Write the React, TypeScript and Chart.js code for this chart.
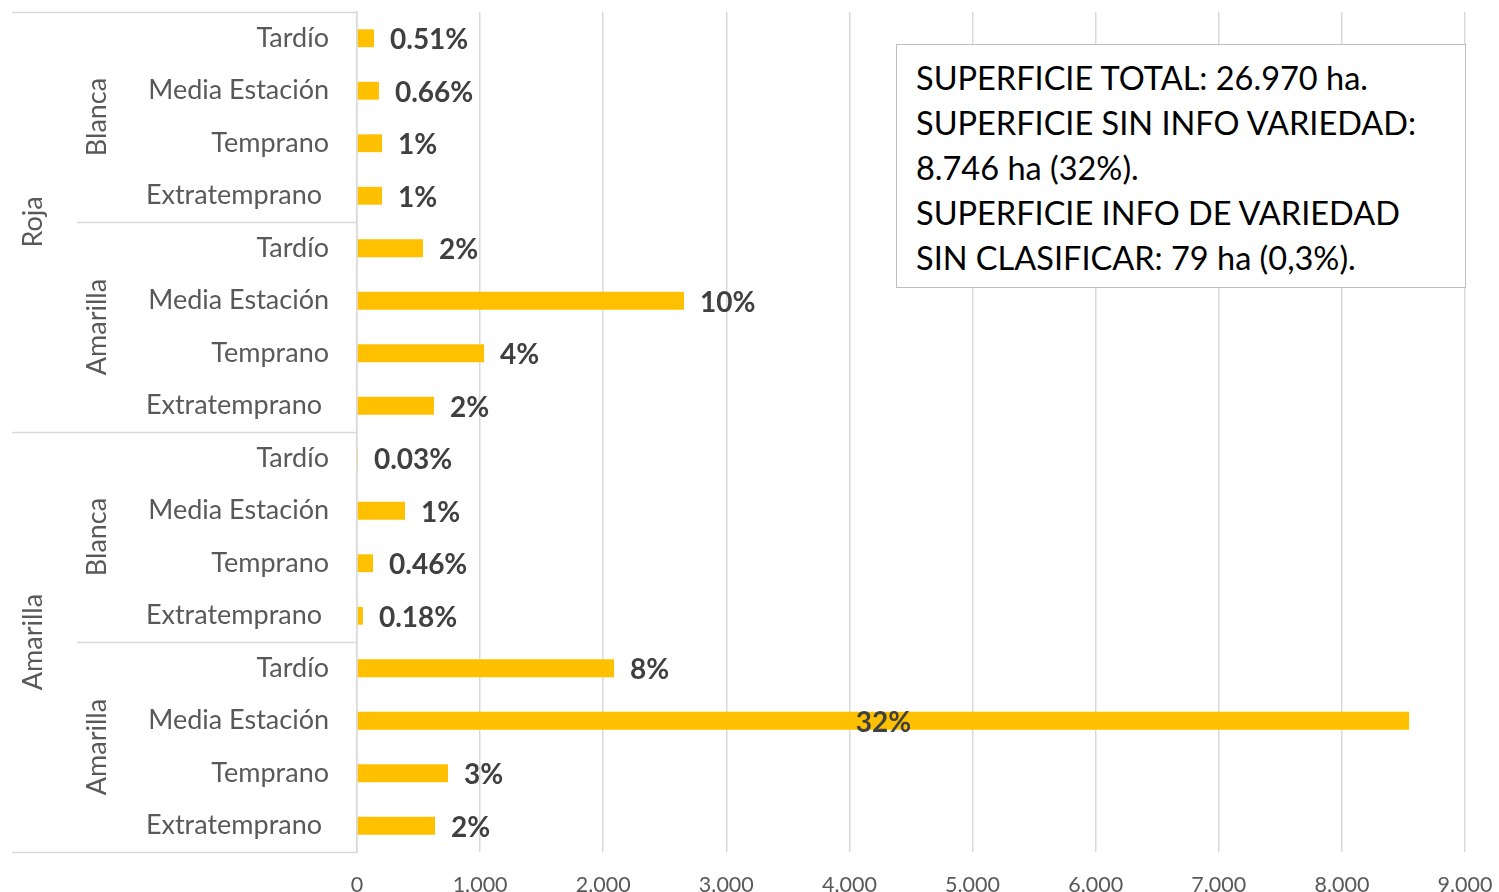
import React, { useEffect, useRef } from "react";
import { Chart, registerables } from "chart.js";

Chart.register(...registerables);

const categories = [
  "Tardío", "Media Estación", "Temprano", "Extratemprano ",
  "Tardío", "Media Estación", "Temprano", "Extratemprano ",
  "Tardío", "Media Estación", "Temprano", "Extratemprano ",
  "Tardío", "Media Estación", "Temprano", "Extratemprano ",
];
const innerGroups = ["Blanca", "Amarilla", "Blanca", "Amarilla"];
const outerGroups = ["Roja", "Amarilla"];
const values = [138, 178, 203, 203, 536, 2656, 1032, 625, 8, 390, 130, 48, 2088, 8546, 739, 634];
const pctLabels = [
  "0.51%", "0.66%", "1%", "1%", "2%", "10%", "4%", "2%",
  "0.03%", "1%", "0.46%", "0.18%", "8%", "32%", "3%", "2%",
];
const infoLines = [
  "SUPERFICIE TOTAL: 26.970 ha.",
  "SUPERFICIE SIN INFO VARIEDAD:",
  "8.746 ha (32%).",
  "SUPERFICIE INFO DE VARIEDAD",
  "SIN CLASIFICAR: 79 ha (0,3%).",
];

const FONT = "Lato, 'Open Sans', sans-serif";
const LINE = "#d9d9d9";

const groupPlugin = {
  id: "groupPlugin",
  afterDraw(chart: any) {
    const ctx = chart.ctx;
    const area = chart.chartArea;
    const n = categories.length;
    const rowH = (area.bottom - area.top) / n;
    const left = 12;
    const innerLeft = 77;
    const axisX = area.left;
    ctx.save();
    ctx.strokeStyle = LINE;
    ctx.lineWidth = 1.5;
    for (let k = 0; k <= 4; k++) {
      const y = Math.round(area.top + k * 4 * rowH) + 0.5;
      const x0 = k % 2 === 0 ? left : innerLeft;
      ctx.beginPath();
      ctx.moveTo(x0, y);
      ctx.lineTo(axisX, y);
      ctx.stroke();
    }
    ctx.fillStyle = "#595959";
    ctx.font = `27px ${FONT}`;
    ctx.textAlign = "center";
    ctx.textBaseline = "middle";
    innerGroups.forEach((g, i) => {
      const cy = area.top + (i * 4 + 2) * rowH;
      ctx.save();
      ctx.translate(97, cy);
      ctx.rotate(-Math.PI / 2);
      ctx.fillText(g, 0, 0);
      ctx.restore();
    });
    outerGroups.forEach((g, i) => {
      const cy = area.top + (i * 8 + 4) * rowH;
      ctx.save();
      ctx.translate(33, cy);
      ctx.rotate(-Math.PI / 2);
      ctx.fillText(g, 0, 0);
      ctx.restore();
    });
    ctx.restore();
  },
  afterDatasetsDraw(chart: any) {
    const ctx = chart.ctx;
    const meta = chart.getDatasetMeta(0);
    ctx.save();
    ctx.fillStyle = "#404040";
    ctx.font = `bold 28px ${FONT}`;
    ctx.textBaseline = "middle";
    meta.data.forEach((bar: any, i: number) => {
      const v = values[i];
      if (v > 5000) {
        ctx.textAlign = "center";
        ctx.fillText(pctLabels[i], (bar.x + bar.base) / 2, bar.y + 2);
      } else {
        ctx.textAlign = "left";
        ctx.fillText(pctLabels[i], bar.x + 16, bar.y + 2);
      }
    });
    ctx.restore();
  },
};

export default function App() {
  const ref = useRef<HTMLCanvasElement>(null);
  useEffect(() => {
    document.body.style.margin = "0";
    const chart = new Chart(ref.current!, {
      type: "bar",
      data: {
        labels: categories,
        datasets: [
          {
            data: values,
            backgroundColor: "#FFC000",
            borderWidth: 0,
            barPercentage: 0.34,
            categoryPercentage: 1,
          },
        ],
      },
      options: {
        indexAxis: "y",
        animation: false,
        responsive: false,
        layout: { padding: { top: 12, right: 34, left: 0, bottom: 0 } },
        plugins: { legend: { display: false }, tooltip: { enabled: false } },
        scales: {
          x: {
            min: 0,
            max: 9000,
            ticks: {
              stepSize: 1000,
              color: "#595959",
              font: { family: FONT, size: 21.5 },
              padding: 20,
              maxRotation: 0,
              callback: (v: any) => Number(v).toLocaleString("de-DE"),
            },
            grid: { color: LINE, lineWidth: 1.5, drawTicks: false },
            border: { display: false },
            afterFit: (s: any) => {
              s.height = 40;
              s.paddingLeft = 0;
              s.paddingRight = 0;
            },
          },
          y: {
            ticks: {
              color: "#595959",
              font: { family: FONT, size: 27 },
              padding: 28,
              autoSkip: false,
            },
            grid: { display: false, drawTicks: false },
            border: { display: true, color: LINE, width: 1.5 },
            afterFit: (s: any) => {
              s.width = 357;
              s.paddingTop = 0;
              s.paddingBottom = 0;
            },
          },
        },
      },
      plugins: [groupPlugin],
    } as any);
    return () => chart.destroy();
  }, []);

  return (
    <div style={{ position: "relative", width: 1499, height: 892, background: "#fff" }}>
      <canvas ref={ref} width={1499} height={892} />
      <div
        style={{
          position: "absolute",
          left: 896,
          top: 44,
          width: 570,
          height: 244,
          boxSizing: "border-box",
          border: "1.5px solid #bfbfbf",
          background: "#fff",
          padding: "10px 0 0 19px",
          fontFamily: FONT,
          fontSize: 32.5,
          lineHeight: "45px",
          color: "#000",
          whiteSpace: "nowrap",
        }}
      >
        {infoLines.map((l, i) => (
          <div key={i}>{l}</div>
        ))}
      </div>
    </div>
  );
}
